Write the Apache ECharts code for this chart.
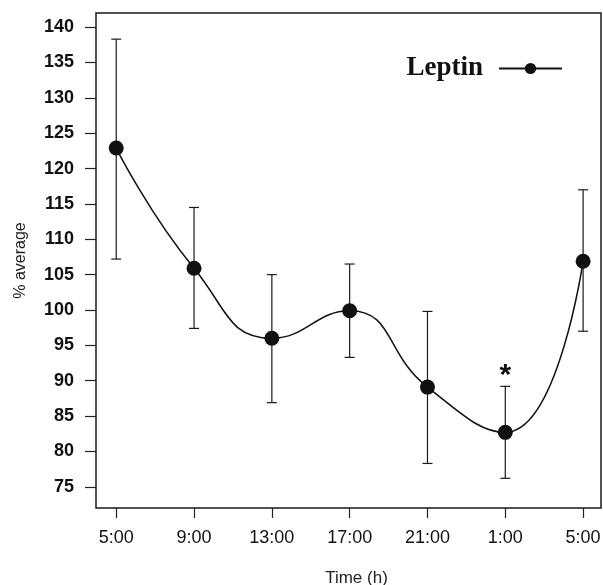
<!DOCTYPE html>
<html>
<head>
<meta charset="utf-8">
<script src="https://cdn.jsdelivr.net/npm/echarts@6/dist/echarts.min.js"></script>
<style>
html,body{margin:0;padding:0;background:#fff;}
#chart{width:603px;height:585px;}
</style>
</head>
<body>
<div id="chart"></div>
<script>
const timeLabels = ['5:00', '9:00', '13:00', '17:00', '21:00', '1:00', '5:00'];
const leptinMean = [122.9, 105.9, 96.0, 99.9, 89.1, 82.7, 106.9];
const errUpper = [138.3, 114.5, 105.0, 106.5, 99.8, 89.2, 117.0];
const errLower = [107.2, 97.4, 86.9, 93.3, 78.3, 76.2, 97.0];
const significance = ['', '', '', '', '', '*', ''];
const yTicks = [75, 80, 85, 90, 95, 100, 105, 110, 115, 120, 125, 130, 135, 140];
const xTicks = [0, 1, 2, 3, 4, 5, 6];

const chart = echarts.init(document.getElementById('chart'), null, {renderer: 'canvas'});

const lineData = leptinMean.map((v, i) => [i, v]);
const errData = leptinMean.map((v, i) => [i, errLower[i], errUpper[i]]);

const option = {
  backgroundColor: '#fff',
  animation: false,
  grid: {
    left: 96, top: 13, right: 2, bottom: 77,
    outerBoundsMode: 'none',
    containLabel: false,
    show: true, borderColor: '#1a1a1a', borderWidth: 1.5, backgroundColor: 'transparent'
  },
  legend: {
    show: true,
    right: 35, top: 50,
    align: 'right',
    itemWidth: 63, itemHeight: 14, itemGap: 0,
    data: ['Leptin'],
    textStyle: {
      fontFamily: 'Liberation Serif', fontWeight: 'bold', fontSize: 27, color: '#111',
      padding: [0, 11, 0, 0]
    }
  },
  xAxis: {
    type: 'value',
    min: -0.26, max: 6.23,
    name: 'Time (h)',
    nameLocation: 'middle',
    nameGap: 62,
    nameTextStyle: {fontFamily: 'Liberation Sans', fontSize: 17, color: '#222', padding: [0, 0, 0, 16]},
    axisLine: {show: false, onZero: false},
    axisTick: {show: true, inside: false, length: 10, customValues: xTicks, lineStyle: {color: '#222', width: 1.2}},
    axisLabel: {
      customValues: xTicks, margin: 21,
      fontFamily: 'Liberation Sans', fontSize: 18, color: '#111',
      formatter: v => timeLabels[Math.round(v)]
    },
    splitLine: {show: false}
  },
  yAxis: {
    type: 'value',
    min: 72, max: 142,
    name: '% average',
    nameLocation: 'middle',
    nameGap: 67,
    nameRotate: 90,
    nameTextStyle: {fontFamily: 'Liberation Sans', fontSize: 16, color: '#222'},
    axisLine: {show: false, onZero: false},
    axisTick: {show: true, inside: false, length: 11, customValues: yTicks, lineStyle: {color: '#222', width: 1.2}},
    axisLabel: {
      customValues: yTicks, margin: 22,
      fontFamily: 'Liberation Sans', fontWeight: 'bold', fontSize: 18, color: '#111'
    },
    splitLine: {show: false}
  },
  series: [
    {
      name: 'errorbars',
      type: 'custom',
      data: errData,
      encode: {x: 0, y: [1, 2]},
      z: 1,
      renderItem: function (params, api) {
        const x = api.value(0);
        const lo = api.coord([x, api.value(1)]);
        const hi = api.coord([x, api.value(2)]);
        const hw = 5;
        const style = {stroke: '#1a1a1a', lineWidth: 1.2};
        const children = [
          {type: 'line', shape: {x1: lo[0], y1: lo[1], x2: hi[0], y2: hi[1]}, style: style},
          {type: 'line', shape: {x1: hi[0] - hw, y1: hi[1], x2: hi[0] + hw, y2: hi[1]}, style: style},
          {type: 'line', shape: {x1: lo[0] - hw, y1: lo[1], x2: lo[0] + hw, y2: lo[1]}, style: style}
        ];
        const sig = significance[params.dataIndex];
        if (sig) {
          children.push({
            type: 'text',
            style: {
              text: sig, x: hi[0], y: hi[1] + 4,
              align: 'center', verticalAlign: 'bottom',
              fontFamily: 'Liberation Sans', fontWeight: 'bold', fontSize: 30, fill: '#111'
            }
          });
        }
        return {type: 'group', children: children};
      }
    },
    {
      name: 'Leptin',
      type: 'line',
      data: lineData,
      smooth: 0.5,
      z: 3,
      symbol: 'circle',
      symbolSize: 15,
      itemStyle: {color: '#111'},
      lineStyle: {color: '#111', width: 1.5}
    }
  ]
};
chart.setOption(option);
</script>
</body>
</html>
